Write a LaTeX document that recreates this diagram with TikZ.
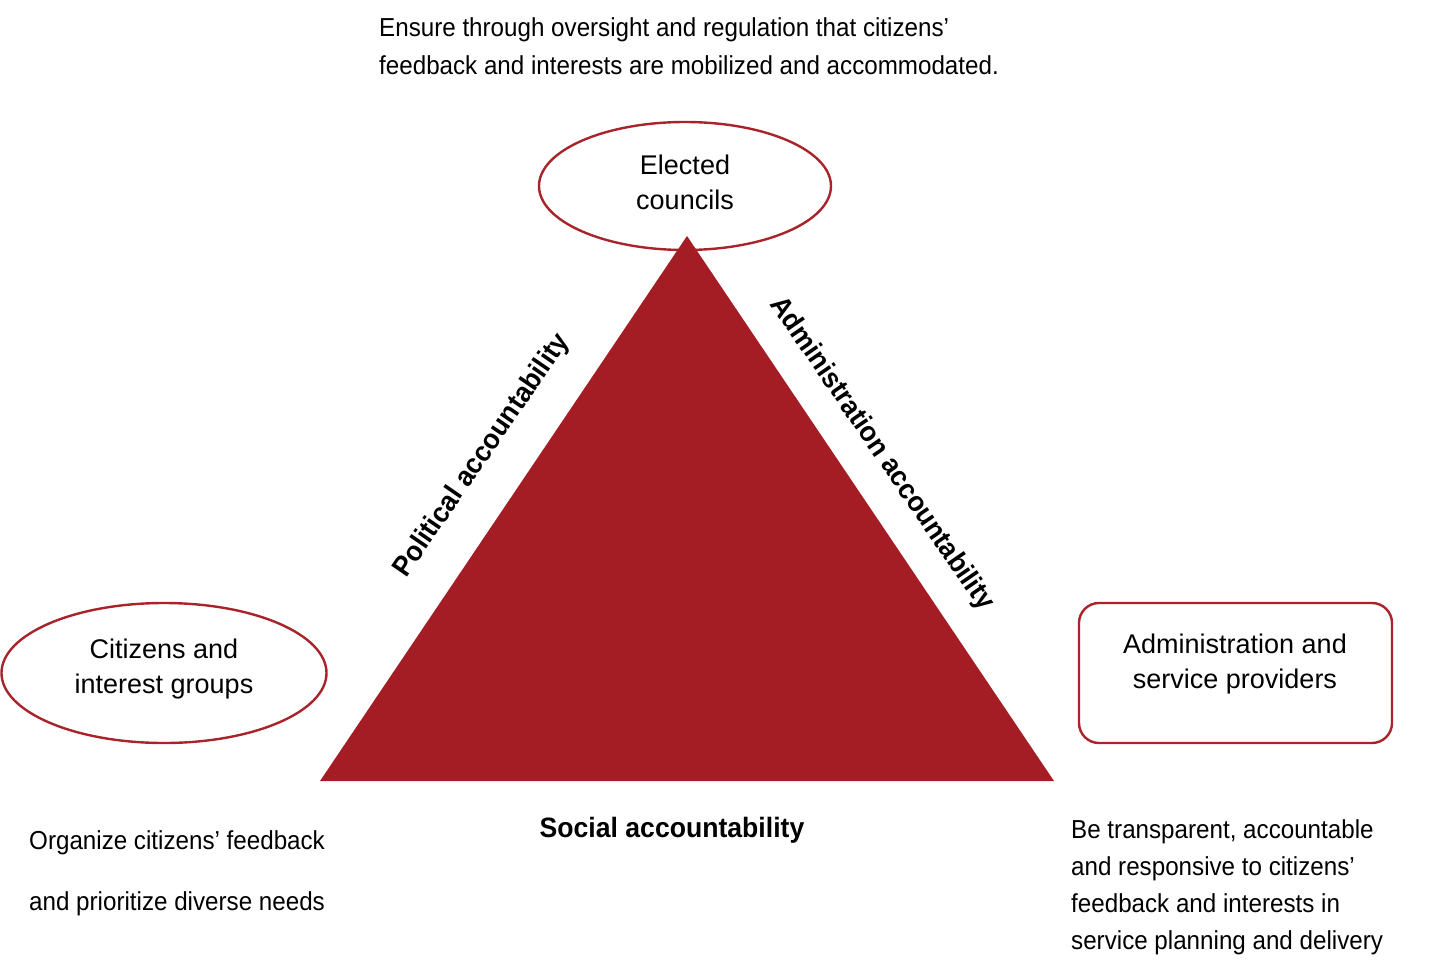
\documentclass[tikz,border=0pt]{standalone}
\usepackage{fontspec}
\setmainfont{Liberation Sans}
\newfontfamily\narrowfont[FakeStretch=0.93]{Liberation Sans}
\newfontfamily\narrowbold[FakeStretch=0.95]{Liberation Sans Bold}
\usetikzlibrary{shapes.geometric}
\definecolor{dred}{HTML}{A41C24}
\definecolor{lred}{HTML}{A8242A}
\tikzset{
  actor/.style={draw=lred, line width=2.4pt, fill=white, inner sep=0pt},
  actortext/.style={align=center, inner sep=0pt, font=\fontsize{27}{35}\selectfont},
  note/.style={align=left, anchor=north west, inner sep=0pt, font=\narrowfont\fontsize{26}{38}\selectfont},
  edgelabel/.style={font=\narrowbold\fontsize{28}{32}\selectfont, inner sep=0pt}
}
\begin{document}
\begin{tikzpicture}[x=1pt,y=-1pt]
\useasboundingbox (0,0) rectangle (1440,977);
% actors
\node[actor, ellipse, minimum width=292pt, minimum height=128pt] (council) at (685,186) {};
\node[actortext] (counciltext) at (685,182) {Elected\\councils};
\node[actor, ellipse, minimum width=325pt, minimum height=140pt] (citizens) at (164,673) {};
\node[actortext] (citizenstext) at (164,669) {Citizens and\\interest groups};
\node[actor, rectangle, rounded corners=20pt, minimum width=313pt, minimum height=140pt] (admin) at (1235.5,673) {};
\node[actortext] (admintext) at (1235,664) {Administration and\\service providers};
% triangle
\coordinate (apex) at (687,236);
\coordinate (bl) at (320,781);
\coordinate (br) at (1054,781);
\fill[dred] (apex) -- (bl) -- (br) -- cycle;
% edge labels
\node[edgelabel, rotate=55.5] (polit) at (482,456) {Political accountability};
\node[edgelabel, rotate=-55.5] (adminacc) at (881.5,454) {Administration accountability};
\node[edgelabel] (social) at (672,830) {Social accountability};
% notes
\node[note] (top) at (379,17) {Ensure through oversight and regulation that citizens’\\feedback and interests are mobilized and accommodated.};
\node[note, font=\narrowfont\fontsize{26}{61}\selectfont] (left) at (29,830) {Organize citizens’ feedback\\and prioritize diverse needs};
\node[note, font=\narrowfont\fontsize{26}{37}\selectfont] (right) at (1071,819) {Be transparent, accountable\\and responsive to citizens’\\feedback and interests in\\service planning and delivery};
\end{tikzpicture}
\end{document}
